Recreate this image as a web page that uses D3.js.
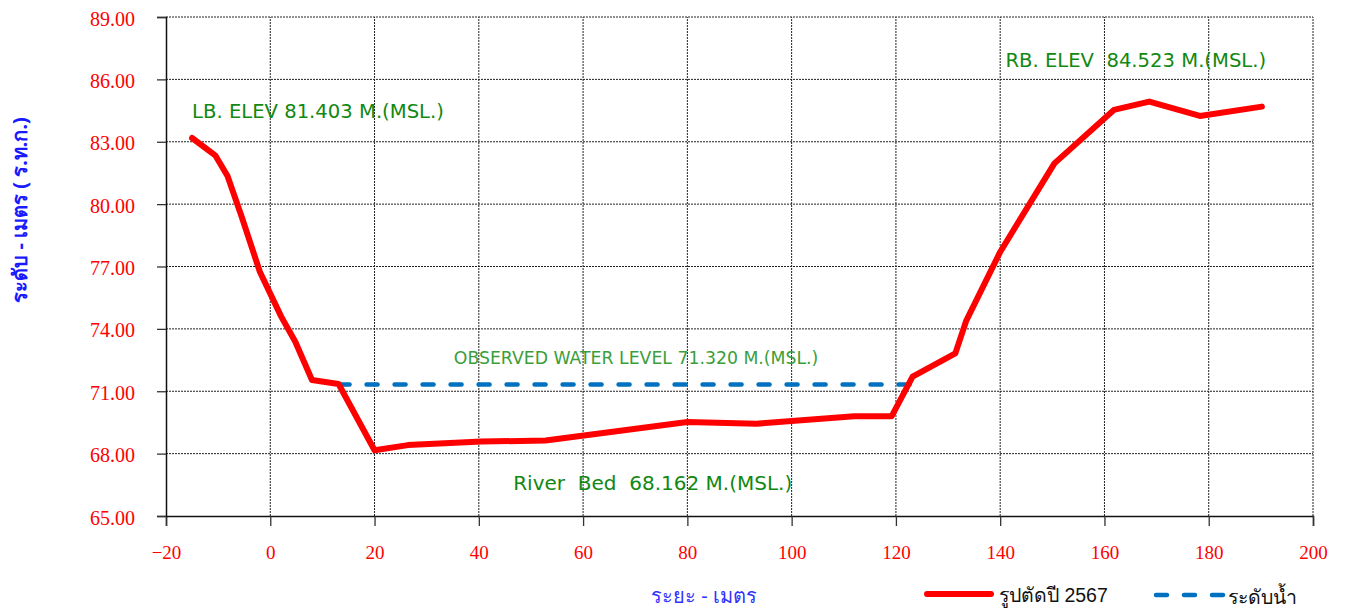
<!DOCTYPE html>
<html>
<head>
<meta charset="utf-8">
<script src="https://cdn.jsdelivr.net/npm/d3@7"></script>
<style>
  body { margin: 0; background: #fff; }
  svg { display: block; }
  .tick-lbl { font-family: "Liberation Serif", "Times New Roman", serif; fill: #ff0000; }
  .note { font-family: "DejaVu Sans", "Noto Sans", sans-serif; white-space: pre; }
</style>
</head>
<body>
<svg id="chart" width="1346" height="610"></svg>
<script>
// ---- data ----
const xTicks = [-20, 0, 20, 40, 60, 80, 100, 120, 140, 160, 180, 200];
const yTicks = [65, 68, 71, 74, 77, 80, 83, 86, 89];

// cross section 2567 (distance m, elevation m MSL)
const dist = [-15, -10.5, -8.2, -5.5, -2.0, 2.1, 4.8, 8.0, 13.1, 20.0, 26.4, 40.5, 52.8, 80.0, 93.3, 112.0, 119.2, 123.2, 131.4, 133.5, 140.0, 150.4, 161.8, 168.6, 178.3, 190.2];
const elev = [83.18, 82.33, 81.35, 79.4, 76.75, 74.59, 73.38, 71.54, 71.35, 68.16, 68.41, 68.58, 68.63, 69.52, 69.44, 69.80, 69.80, 71.70, 72.82, 74.40, 77.70, 81.96, 84.53, 84.93, 84.24, 84.69];

const waterX = [13.1, 123.0];
const waterY = 71.32;

const notes = [
  { text: 'LB. ELEV 81.403 M.(MSL.)', x: -15, y: 84.15, size: 19.6, color: '#118811' },
  { text: 'RB. ELEV  84.523 M.(MSL.)', x: 141, y: 86.6, size: 19.6, color: '#118811' },
  { text: 'OBSERVED WATER LEVEL 71.320 M.(MSL.)', x: 35.2, y: 72.3, size: 17.3, color: '#3a9e3a' },
  { text: 'River  Bed  68.162 M.(MSL.)', x: 46.6, y: 66.27, size: 20, color: '#118811' }
];

// ---- layout ----
const svg = d3.select('#chart');
const m = { l: 166, r: 33, t: 17, b: 94 };
const W = 1346, H = 610;

const x = d3.scaleLinear().domain([-20, 200]).range([m.l, W - m.r]);
const y = d3.scaleLinear().domain([65, 89]).range([H - m.b, m.t]);

// grid
const grid = svg.append('g').attr('stroke', '#222').attr('stroke-width', 1).attr('stroke-dasharray', '2,1');
grid.selectAll('line.v').data(xTicks.slice(1)).join('line')
  .attr('x1', d => x(d)).attr('x2', d => x(d)).attr('y1', y(65)).attr('y2', y(89));
grid.selectAll('line.h').data(yTicks.slice(1)).join('line')
  .attr('y1', d => y(d)).attr('y2', d => y(d)).attr('x1', x(-20)).attr('x2', x(200));

// axes
const xAxis = svg.append('g').attr('transform', `translate(0,${y(65)})`)
  .call(d3.axisBottom(x).tickValues(xTicks).tickSize(10).tickPadding(20).tickFormat(d3.format('d')));
const yAxis = svg.append('g').attr('transform', `translate(${x(-20)},0)`)
  .call(d3.axisLeft(y).tickValues(yTicks).tickSize(9).tickPadding(22).tickFormat(d3.format('.2f')));

[xAxis, yAxis].forEach(a => {
  a.select('.domain').attr('stroke', '#111').attr('stroke-width', 1.5);
  a.selectAll('.tick line').attr('stroke', '#333').attr('stroke-width', 1.3);
  a.selectAll('.tick text').attr('class', 'tick-lbl').attr('fill', '#ff0000');
});
xAxis.selectAll('.tick text').style('font-size', '19px');
yAxis.selectAll('.tick text').style('font-size', '20px').attr('dy', '0.4em');

// water level
svg.append('line')
  .attr('x1', x(waterX[0])).attr('x2', x(waterX[1]))
  .attr('y1', y(waterY)).attr('y2', y(waterY))
  .attr('stroke', '#0070c0').attr('stroke-width', 4.5)
  .attr('stroke-dasharray', '11,17').attr('stroke-linecap', 'round');

// section line
const line = d3.line().x((d, i) => x(dist[i])).y((d, i) => y(elev[i]));
svg.append('path').datum(elev)
  .attr('d', line).attr('fill', 'none')
  .attr('stroke', '#ff0000').attr('stroke-width', 6)
  .attr('stroke-linejoin', 'round').attr('stroke-linecap', 'round');

// annotations
svg.selectAll('text.note').data(notes).join('text')
  .attr('class', 'note')
  .attr('xml:space', 'preserve')
  .attr('x', d => x(d.x)).attr('y', d => y(d.y))
  .attr('fill', d => d.color)
  .style('font-size', d => d.size + 'px')
  .text(d => d.text);

// axis titles
svg.append('text')
  .attr('x', 704).attr('y', 603).attr('text-anchor', 'middle')
  .attr('fill', '#3333ff').style('font-family', '"Noto Sans", sans-serif').style('font-size', '20px')
  .text('ระยะ - เมตร');
svg.append('text')
  .attr('transform', 'translate(27,210) rotate(-90)').attr('text-anchor', 'middle')
  .attr('fill', '#1a1aff').style('font-family', '"Noto Sans", sans-serif').style('font-size', '20px').style('font-weight', 'bold')
  .text('ระดับ - เมตร ( ร.ท.ก.)');

// legend
const leg = svg.append('g').style('font-family', '"Liberation Sans", Arial, sans-serif').style('font-size', '19.5px');
leg.append('line').attr('x1', 927).attr('x2', 991).attr('y1', 594).attr('y2', 594)
  .attr('stroke', '#ff0000').attr('stroke-width', 6).attr('stroke-linecap', 'round');
leg.append('text').attr('x', 999).attr('y', 602).attr('fill', '#111').text('รูปตัดปี 2567');
leg.append('line').attr('x1', 1156).attr('x2', 1223).attr('y1', 595).attr('y2', 595)
  .attr('stroke', '#0070c0').attr('stroke-width', 4.5)
  .attr('stroke-dasharray', '11,17').attr('stroke-linecap', 'round');
leg.append('text').attr('x', 1228).attr('y', 604).attr('fill', '#111').text('ระดับน้ำ');
</script>
</body>
</html>
